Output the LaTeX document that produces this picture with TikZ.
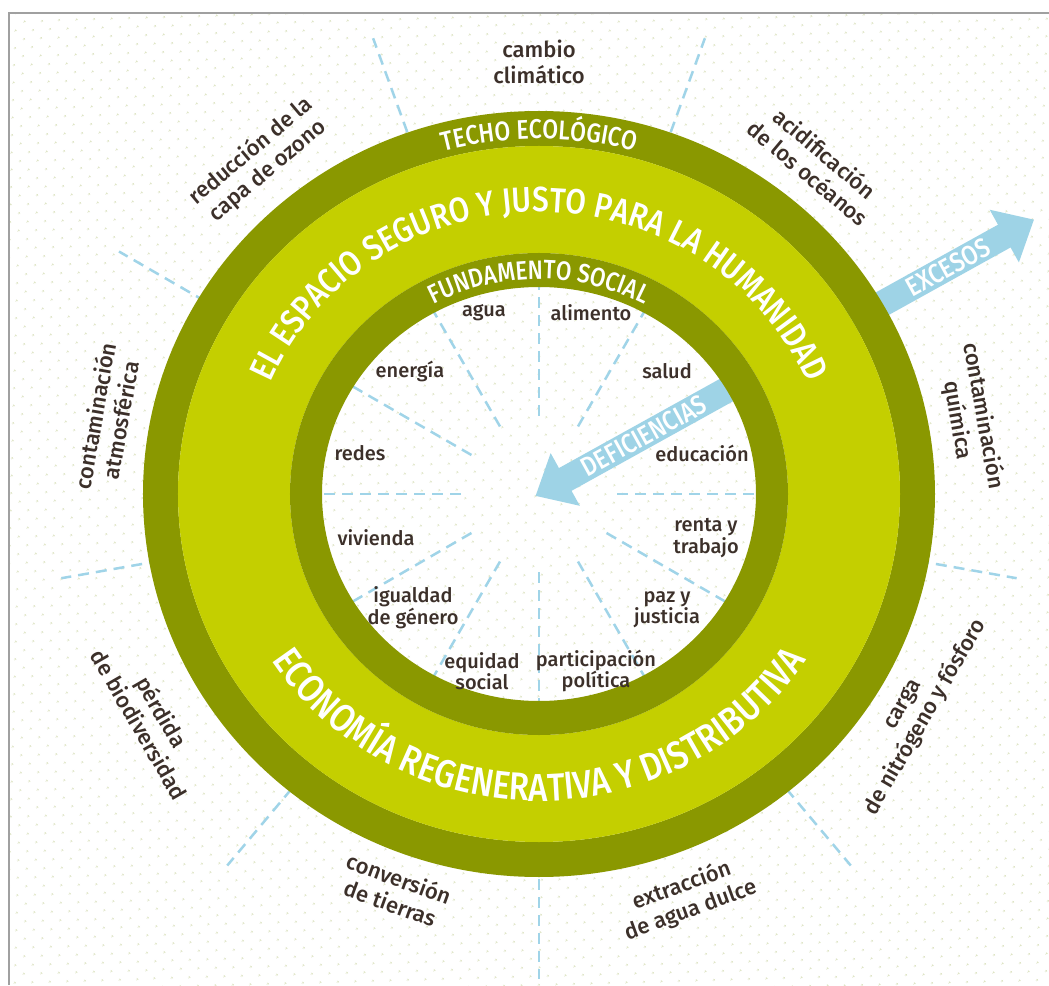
\documentclass[tikz,border=0pt]{standalone}
\usepackage{fontspec}
\setmainfont{Fira Sans Medium}
\newfontfamily\ringfont{Fira Sans Medium}[FakeStretch=0.85]
\usepackage{tikz}
\usetikzlibrary{arrows.meta,decorations.text,patterns.meta}

\definecolor{ringdark}{RGB}{138,152,0}
\definecolor{ringlight}{RGB}{196,207,0}
\definecolor{dashblue}{RGB}{160,212,232}
\definecolor{arrowblue}{RGB}{158,211,230}
\definecolor{labelbrown}{RGB}{60,48,42}
\definecolor{dotgreen}{RGB}{222,228,196}
\definecolor{framegray}{RGB}{160,160,160}

\tikzstyle{outerlabel} = [text=labelbrown, align=center, font=\fontsize{22}{26}\selectfont]
\tikzstyle{innerlabel} = [text=labelbrown, align=center, inner sep=0pt,
    font=\fontsize{20}{20}\selectfont]
\tikzstyle{radial} = [draw=dashblue, line width=2.5pt, dash pattern=on 11pt off 7pt]
\tikzstyle{bigarrow} = [draw=arrowblue, line width=26pt, -{Triangle[width=58pt,length=34pt]}]
\tikzstyle{arrowtext} = [text=white, font=\ringfont\fontsize{27}{27}\selectfont]

\begin{document}
\begin{tikzpicture}[x=1pt, y=1pt]
\useasboundingbox (-539,-491) rectangle (510,494);
\fill[white] (-539,-491) rectangle (510,494);
\fill[pattern={Dots[radius=1.2pt, distance=13pt, angle=45]}, pattern color=dotgreen]
    (-530,-491) rectangle (510,481);
\draw[framegray, line width=1.5pt] (-530,-491) -- (-530,481) -- (510,481);

\foreach \a in {30,70,...,350} \draw[radial] (\a:385) -- (\a:485);
\foreach \a in {0,30,...,330} \draw[radial] (\a:78) -- (\a:220);

\coordinate (exc-start) at (29:330);
\coordinate (exc-tip) at (29:566);
\coordinate (def-start) at (29:240);
\coordinate (def-tip) at (209:4);
\draw[bigarrow] (exc-start) -- (exc-tip);
\draw[bigarrow] (def-start) -- (def-tip);

\fill[ringdark, even odd rule] (0,0) ellipse[x radius=396, y radius=383]
    (0,0) ellipse[x radius=361, y radius=348];
\fill[ringlight, even odd rule] (0,0) ellipse[x radius=361, y radius=348]
    (0,0) ellipse[x radius=249, y radius=241];
\fill[ringdark, even odd rule] (0,0) ellipse[x radius=249, y radius=241]
    (0,0) ellipse[x radius=217, y radius=207];

\path[decorate, decoration={text along path, text align=center, text color=white,
    text={|\ringfont\fontsize{27}{27}\selectfont|TECHO ECOLÓGICO}}]
    (160:368 and 355) arc[start angle=160, end angle=20, x radius=368, y radius=355];
\path[decorate, decoration={text along path, text align=center, text color=white,
    text={|\ringfont\fontsize{35}{35}\selectfont|EL ESPACIO SEGURO Y JUSTO PARA LA HUMANIDAD}}]
    (170:292 and 282) arc[start angle=170, end angle=10, x radius=292, y radius=282];
\path[decorate, decoration={text along path, text align=center, text color=white,
    text={|\ringfont\fontsize{39}{39}\selectfont|ECONOMÍA REGENERATIVA Y DISTRIBUTIVA}}]
    (190:318 and 307) arc[start angle=190, end angle=350, x radius=318, y radius=307];
\path[decorate, decoration={text along path, text align=center, text color=white,
    text={|\ringfont\fontsize{26.5}{26.5}\selectfont|FUNDAMENTO SOCIAL}}]
    (160:224 and 215) arc[start angle=160, end angle=20, x radius=224, y radius=215];

\node[arrowtext, rotate=29] (excesos) at (29:468) {EXCESOS};
\node[arrowtext, rotate=29] (deficiencias) at (29:120) {DEFICIENCIAS};

\node[outerlabel] (cambio) at (90:432) {cambio\\climático};
\node[outerlabel, rotate=-40] (acidificacion) at (50:432) {acidificación\\de los océanos};
\node[outerlabel, rotate=-80] (quimica) at (10:438) {contaminación\\química};
\node[outerlabel, rotate=60] (carga) at (-30:435) {carga\\de nitrógeno y fósforo};
\node[outerlabel, rotate=20] (aguadulce) at (-70:430) {extracción\\de agua dulce};
\node[outerlabel, rotate=-20] (tierras) at (-110:422) {conversión\\de tierras};
\node[outerlabel, rotate=-60] (biodiversidad) at (-150:448) {pérdida\\de biodiversidad};
\node[outerlabel, rotate=80] (atmosferica) at (170:438) {contaminación\\atmosférica};
\node[outerlabel, rotate=40] (ozono) at (130:435) {reducción de la\\capa de ozono};

\node[innerlabel] (agua) at (-55,181) {agua};
\node[innerlabel] (alimento) at (52,181) {alimento};
\node[innerlabel] (energia) at (-129,123) {energía};
\node[innerlabel] (salud) at (128,123) {salud};
\node[innerlabel] (redes) at (-179,41) {redes};
\node[innerlabel] (educacion) at (163,41) {educación};
\node[innerlabel] (vivienda) at (-163,-44) {vivienda};
\node[innerlabel] (renta) at (167,-44) {renta y\\trabajo};
\node[innerlabel] (igualdad) at (-126,-114) {igualdad\\de género};
\node[innerlabel] (paz) at (128,-116) {paz y\\justicia};
\node[innerlabel] (equidad) at (-57,-177) {equidad\\social};
\node[innerlabel] (participacion) at (57,-177) {participación\\política};
\end{tikzpicture}
\end{document}
